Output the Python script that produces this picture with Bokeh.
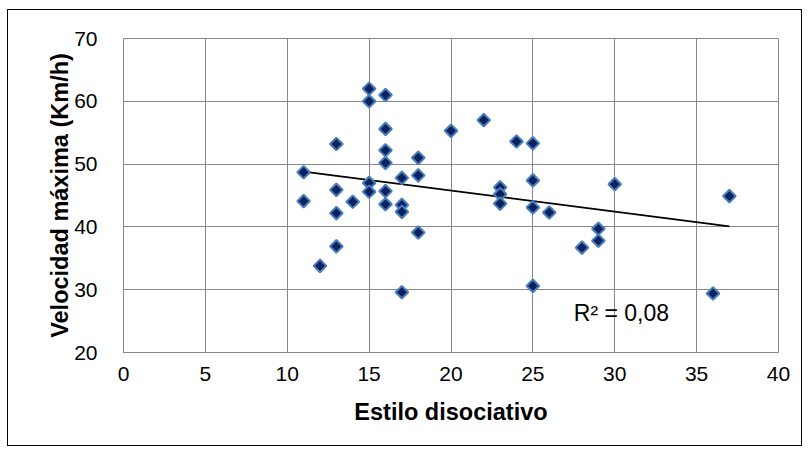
import numpy as np
from bokeh.plotting import figure
from bokeh.models import FixedTicker, Label
from bokeh.embed import file_html
from bokeh.resources import INLINE

# Estilo disociativo vs. velocidad máxima
estilo = [15, 16, 15, 16, 13, 20, 22, 16, 16, 18, 11, 18, 17, 15, 15, 13, 16,
          11, 14, 16, 17, 17, 13, 18, 13, 12, 17, 24, 25, 25, 30, 37, 23, 23,
          23, 25, 26, 29, 29, 28, 25, 36]
velocidad = [62.0, 61.0, 60.0, 55.6, 53.2, 55.3, 57.0, 52.2, 50.2, 51.0, 48.7,
             48.2, 47.8, 47.0, 45.6, 45.9, 45.7, 44.1, 44.0, 43.6, 43.5, 42.4,
             42.2, 39.1, 36.9, 33.8, 29.6, 53.6, 53.3, 47.4, 46.8, 44.9, 46.3,
             45.2, 43.7, 43.1, 42.3, 39.7, 37.8, 36.7, 30.6, 29.4]

x_ticks = [0, 5, 10, 15, 20, 25, 30, 35, 40]
y_ticks = [20, 30, 40, 50, 60, 70]
r2_text = "R² = 0,08"

FONT = "Liberation Sans"
GRID = "#878787"

p = figure(
    width=793, height=435,
    x_range=(0, 40), y_range=(20, 70),
    output_backend="svg", toolbar_location=None,
    min_border_left=115, min_border_right=25,
    min_border_top=28, min_border_bottom=95,
    background_fill_color="white", border_fill_color="white",
)
p.styles = {"margin-left": "7px", "margin-top": "9px",
            "border": "1.5px solid black", "box-sizing": "content-box"}

p.outline_line_color = GRID
p.outline_line_width = 1

p.xaxis.ticker = FixedTicker(ticks=x_ticks)
p.yaxis.ticker = FixedTicker(ticks=y_ticks)
p.xgrid.ticker = FixedTicker(ticks=x_ticks)
p.ygrid.ticker = FixedTicker(ticks=y_ticks)
p.grid.grid_line_color = GRID
p.grid.grid_line_width = 1

for ax in (p.xaxis, p.yaxis):
    ax.axis_line_color = GRID
    ax.major_tick_line_color = None
    ax.minor_tick_line_color = None
    ax.major_label_text_font = FONT
    ax.major_label_text_font_size = "21px"
    ax.major_label_text_color = "black"
    ax.axis_label_text_font = FONT
    ax.axis_label_text_font_size = "23.5px"
    ax.axis_label_text_font_style = "bold"
    ax.axis_label_text_color = "black"

p.xaxis.axis_label = "Estilo disociativo"
p.yaxis.axis_label = "Velocidad máxima (Km/h)"
p.xaxis.major_label_standoff = 8
p.yaxis.major_label_standoff = 20
p.xaxis.axis_label_standoff = 15
p.yaxis.axis_label_standoff = -2

# Linear trend fitted to the data, drawn across the observed x span
coef = np.polyfit(estilo, velocidad, 1)
tx = np.array([min(estilo), max(estilo)], dtype=float)
p.line(tx, np.polyval(coef, tx), line_color="black", line_width=1.75)

p.scatter(estilo, velocidad, marker="square", angle=np.pi / 4, size=9,
          fill_color="#0b2160", line_color="#4a7ebb", line_width=2)

p.add_layout(Label(x=27.5, y=24.2, text=r2_text, text_font=FONT,
                   text_font_size="23px", text_color="black"))

open("out.html", "w").write(file_html(p, INLINE))
